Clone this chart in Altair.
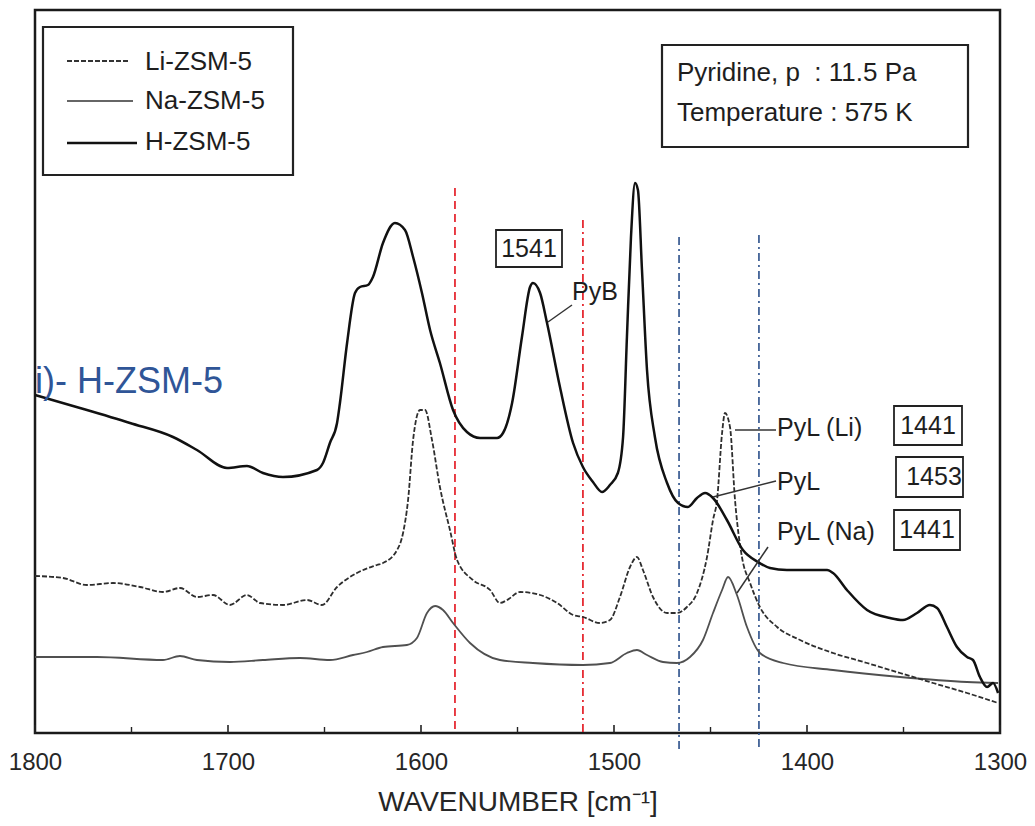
import altair as alt
import pandas as pd

# ---------------- data ----------------
h_wn = [1800, 1776.7, 1750.8, 1728.5, 1716.1, 1700.5, 1690.2, 1681.9, 1671.5, 1653.9,
        1650.8, 1647.2, 1643.5, 1642.0, 1638.3, 1634.2, 1631.6, 1627.5, 1624.9, 1619.7,
        1613.5, 1608.3, 1604.1, 1599.5, 1595.3, 1590.2, 1583.4, 1576.2, 1569.4, 1560.6,
        1557.5, 1552.8, 1547.7, 1543.5, 1542.0, 1538.3, 1534.7, 1528.0, 1521.2, 1516.1,
        1510.9, 1506.2, 1502.1, 1498.0, 1495.3, 1493.3, 1491.2, 1489.1, 1487.6, 1485.5,
        1482.9, 1478.8, 1472.5, 1466.8, 1461.7, 1457.0, 1452.8, 1448.7, 1441.5, 1433.2,
        1425.4, 1419.2, 1410.4, 1389.6, 1386.5, 1379.3, 1368.9, 1357.0, 1350.3, 1343.0,
        1336.3, 1332.6, 1327.5, 1322.3, 1317.1, 1314.0, 1310.4, 1306.7, 1303.6, 1301.0]
h_abs = [0.676, 0.650, 0.620, 0.592, 0.566, 0.530, 0.534, 0.520, 0.512, 0.526,
         0.540, 0.580, 0.620, 0.660, 0.780, 0.880, 0.892, 0.896, 0.912, 0.980,
         1.020, 1.006, 0.952, 0.880, 0.806, 0.740, 0.646, 0.602, 0.590, 0.590,
         0.600, 0.660, 0.792, 0.892, 0.900, 0.880, 0.820, 0.692, 0.580, 0.532,
         0.502, 0.482, 0.496, 0.520, 0.592, 0.792, 0.992, 1.100, 1.086, 0.926,
         0.726, 0.592, 0.500, 0.460, 0.452, 0.470, 0.480, 0.470, 0.426, 0.366,
         0.342, 0.330, 0.326, 0.326, 0.320, 0.286, 0.246, 0.230, 0.226, 0.240,
         0.256, 0.250, 0.212, 0.172, 0.152, 0.146, 0.112, 0.092, 0.100, 0.080]

li_wn = [1800, 1785.5, 1773.1, 1759.6, 1745.6, 1733.7, 1724.9, 1716.1, 1707.8, 1699.0,
         1690.2, 1683.4, 1671.5, 1659.1, 1651.3, 1643.5, 1633.2, 1622.8, 1619.7, 1612.4,
         1609.3, 1606.7, 1604.1, 1600.5, 1597.9, 1594.3, 1590.2, 1585.0, 1581.3, 1573.1,
         1564.2, 1559.1, 1555.4, 1548.7, 1538.3, 1529.5, 1521.2, 1516.1, 1507.3, 1502.1,
         1496.9, 1491.7, 1488.1, 1485.0, 1479.8, 1472.5, 1467.4, 1462.2, 1457.0, 1451.8,
         1448.7, 1446.6, 1444.0, 1442.5, 1439.9, 1437.3, 1433.7, 1429.5, 1424.4, 1415.5,
         1403.6, 1386.5, 1368.9, 1351.8, 1334.7, 1317.1, 1301.0]
li_abs = [0.314, 0.310, 0.296, 0.300, 0.292, 0.282, 0.290, 0.272, 0.276, 0.256,
          0.276, 0.260, 0.256, 0.266, 0.256, 0.292, 0.320, 0.336, 0.340, 0.366,
          0.400, 0.466, 0.586, 0.646, 0.646, 0.586, 0.492, 0.406, 0.346, 0.306,
          0.286, 0.260, 0.266, 0.282, 0.276, 0.260, 0.236, 0.232, 0.220, 0.226,
          0.272, 0.332, 0.352, 0.326, 0.272, 0.240, 0.240, 0.252, 0.280, 0.352,
          0.426, 0.466, 0.600, 0.640, 0.612, 0.466, 0.352, 0.300, 0.252, 0.212,
          0.186, 0.160, 0.140, 0.120, 0.100, 0.080, 0.060]

na_wn = [1800, 1767.9, 1733.7, 1724.9, 1716.1, 1699.0, 1681.9, 1662.7, 1647.2, 1635.2,
         1628.0, 1619.7, 1607.3, 1602.1, 1596.9, 1592.7, 1588.6, 1583.4, 1574.6, 1559.1,
         1542.0, 1516.1, 1502.1, 1493.3, 1488.1, 1482.9, 1474.6, 1467.4, 1460.6, 1453.9,
         1448.7, 1444.0, 1440.9, 1436.3, 1431.1, 1424.4, 1412.4, 1386.5, 1351.8, 1317.1, 1301.0]
na_abs = [0.152, 0.152, 0.146, 0.154, 0.146, 0.142, 0.146, 0.150, 0.146, 0.156,
          0.162, 0.172, 0.176, 0.190, 0.240, 0.254, 0.246, 0.220, 0.180, 0.146,
          0.140, 0.136, 0.140, 0.160, 0.166, 0.156, 0.142, 0.140, 0.152, 0.186,
          0.240, 0.286, 0.312, 0.276, 0.212, 0.160, 0.140, 0.126, 0.112, 0.102, 0.100]

# vertical guide lines: wavenumber, top, bottom (absorbance units)
red_wn = [1582.4, 1516.1]
red_top = [1.090, 1.026]
blue_wn = [1466.3, 1424.9]
blue_top = [0.992, 0.996]
blue_bottom = [-0.034, -0.034]

major_ticks = [1800, 1700, 1600, 1500, 1400, 1300]
minor_ticks = [1750, 1650, 1550, 1450, 1350]

FONT = "Liberation Sans"
TXT = "#1e1e1e"
NB = "\u00a0"
W, H = 965, 723
YDOM = [0, 1.446]

xscale = alt.Scale(domain=[1300, 1800], reverse=True, nice=False, zero=False)
yscale = alt.Scale(domain=YDOM, nice=False, zero=False)
xaxis = alt.Axis(values=major_ticks, format="d", labelFontSize=24, labelFont=FONT,
                 labelColor="#262626", domain=False, ticks=False, tickSize=0, grid=False,
                 labelPadding=17, labelOverlap=False, labelFlush=False,
                 title="WAVENUMBER [cm⁻¹]", titleFontSize=28, titleFont=FONT,
                 titleFontWeight="normal", titleColor="#262626", titlePadding=14)


def spectrum(wn, ab, name):
    return pd.DataFrame({"wn": wn, "a": ab, "sample": name})


def line_layer(df, **style):
    return alt.Chart(df).mark_line(interpolate="monotone", **style).encode(
        x=alt.X("wn:Q", scale=xscale, axis=xaxis),
        y=alt.Y("a:Q", scale=yscale, axis=None),
    )


na_layer = line_layer(spectrum(na_wn, na_abs, "Na-ZSM-5"), color="#505050", strokeWidth=1.8)
li_layer = line_layer(spectrum(li_wn, li_abs, "Li-ZSM-5"), color="#2e2e2e", strokeWidth=1.8,
                      strokeDash=[5, 2])
h_layer = line_layer(spectrum(h_wn, h_abs, "H-ZSM-5"), color="#111111", strokeWidth=2.5)

red_df = pd.DataFrame({"wn": red_wn, "top": red_top, "bot": [0, 0]})
red1 = alt.Chart(red_df.iloc[[0]]).mark_rule(color="#e3101a", strokeWidth=1.6,
                                             strokeDash=[8, 5]).encode(
    x=alt.X("wn:Q", scale=xscale, axis=xaxis),
    y=alt.Y("top:Q", scale=yscale, axis=None), y2="bot:Q")
red2 = alt.Chart(red_df.iloc[[1]]).mark_rule(color="#e3101a", strokeWidth=1.6,
                                             strokeDash=[8, 4, 2, 4]).encode(
    x=alt.X("wn:Q", scale=xscale, axis=xaxis),
    y=alt.Y("top:Q", scale=yscale, axis=None), y2="bot:Q")
blue_df = pd.DataFrame({"wn": blue_wn, "top": blue_top, "bot": blue_bottom})
blue = alt.Chart(blue_df).mark_rule(color="#2a4f8a", strokeWidth=1.6,
                                    strokeDash=[8, 4, 2, 4]).encode(
    x=alt.X("wn:Q", scale=xscale, axis=xaxis),
    y=alt.Y("top:Q", scale=yscale, axis=None), y2="bot:Q")

# inward ticks on the bottom frame
maj = alt.Chart(pd.DataFrame({"wn": major_ticks})).mark_rule(color="#222", strokeWidth=1.6).encode(
    x=alt.X("wn:Q", scale=xscale, axis=xaxis), y=alt.value(H), y2=alt.value(H - 8))
mnr = alt.Chart(pd.DataFrame({"wn": minor_ticks})).mark_rule(color="#222", strokeWidth=1.4).encode(
    x=alt.X("wn:Q", scale=xscale, axis=xaxis), y=alt.value(H), y2=alt.value(H - 6))

one = alt.Data(values=[{}])


def box(x1, y1, x2, y2, sw=1.8):
    return alt.Chart(one).mark_rect(fill="white", stroke="#222", strokeWidth=sw).encode(
        x=alt.value(x1), x2=alt.value(x2), y=alt.value(y1), y2=alt.value(y2))


def seg(x1, y1, x2, y2, color="#333", sw=1.5, dash=None):
    kw = {"color": color, "strokeWidth": sw}
    if dash:
        kw["strokeDash"] = dash
    return alt.Chart(one).mark_rule(**kw).encode(
        x=alt.value(x1), x2=alt.value(x2), y=alt.value(y1), y2=alt.value(y2))


def txt(s, x, y, size=24, align="left", color=TXT, font=FONT):
    return alt.Chart(one).mark_text(text=s, align=align, baseline="middle", fontSize=size,
                                    font=font, color=color).encode(
        x=alt.value(x), y=alt.value(y))


annotations = [
    # legend
    box(8, 17, 258, 165, sw=2.2),
    seg(32, 51, 95, 51, color="#333", sw=1.8, dash=[5, 2]),
    seg(32, 91, 98, 91, color="#666", sw=2),
    seg(32, 133, 102, 133, color="#111", sw=2.4),
    txt("Li-ZSM-5", 110, 52, 26),
    txt("Na-ZSM-5", 110, 91, 26),
    txt("H-ZSM-5", 110, 132, 26),
    # conditions box
    box(627, 35, 933, 137, sw=2.2),
    txt("Pyridine, p" + NB + NB + ":" + NB + "11.5 Pa", 642, 63, 26),
    txt("Temperature" + NB + ":" + NB + "575 K", 642, 103, 26),
    # sample label
    txt("i)- H-ZSM-5", 0, 372, 36, color="#2f5597"),
    # band labels
    box(461, 220, 527, 257),
    txt("1541", 494, 239, 25, align="center"),
    seg(513, 312, 537, 295),
    txt("PyB", 537, 282, 25),
    seg(700, 420, 741, 420),
    txt("PyL (Li)", 742, 418, 25),
    seg(678, 487, 741, 471),
    txt("PyL", 742, 472, 25),
    seg(702, 583, 733, 537),
    txt("PyL (Na)", 742, 522, 25),
    box(859, 396, 927, 435),
    txt("1441", 893, 416, 25, align="center"),
    box(861, 447, 928, 487),
    txt("1453", 899, 467, 25, align="center"),
    box(859, 500, 925, 540),
    txt("1441", 892, 520, 25, align="center"),
]

chart = alt.layer(
    red1, red2, blue, na_layer, li_layer, h_layer, maj, mnr, *annotations
).properties(
    width=W, height=H,
    autosize=alt.AutoSizeParams(type="none"),
    padding={"left": 35, "top": 10, "right": 35, "bottom": 93},
    background="white",
).configure_view(stroke="#1a1a1a", strokeWidth=2.5)

chart.save("out.html", embed_options={"renderer": "svg", "actions": False})
